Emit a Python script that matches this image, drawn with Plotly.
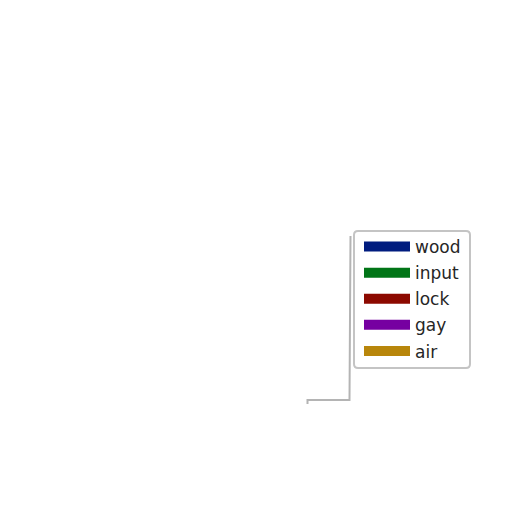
import plotly.graph_objects as go

series = ["wood", "input", "lock", "gay", "air"]
colors = ["#001c7f", "#017517", "#8c0900", "#7600a1", "#b8860b"]

# faint grey line (pixel-like coordinates)
line_x = [307.5, 307.5, 349.5, 350.5]
line_y = [404, 400, 400, 236]

OFF = 8  # page body margin

fig = go.Figure()
fig.add_trace(go.Scatter(x=line_x, y=line_y, mode="lines",
                         line=dict(color="#b4b4b4", width=2),
                         showlegend=False, hoverinfo="skip"))
for name, c in zip(series, colors):
    fig.add_trace(go.Scatter(x=[None], y=[None], mode="lines", name=name,
                             legendgroup=name,
                             line=dict(color=c, width=12)))

fig.add_shape(type="path",
              path="M 358,231 L 466,231 Q 470,231 470,235 L 470,364 Q 470,368 466,368 L 358,368 Q 354,368 354,364 L 354,235 Q 354,231 358,231 Z",
              xref="x", yref="y", line=dict(color="#c4c4c4", width=2),
              fillcolor="white", layer="below")

fig.update_layout(
    width=512, height=512,
    margin=dict(l=0, r=0, t=0, b=0),
    paper_bgcolor="white", plot_bgcolor="white",
    xaxis=dict(range=[OFF, 512 + OFF], visible=False, fixedrange=True),
    yaxis=dict(range=[512 + OFF, OFF], visible=False, fixedrange=True),
    legend=dict(x=(359 - OFF) / 512, y=1 - (229 - OFF) / 512, xanchor="left", yanchor="top",
                bgcolor="rgba(0,0,0,0)", borderwidth=0,
                font=dict(family="DejaVu Sans", size=17, color="#262626"),
                itemwidth=46, tracegroupgap=1),
    showlegend=True,
)
fig.write_html("out.html")
